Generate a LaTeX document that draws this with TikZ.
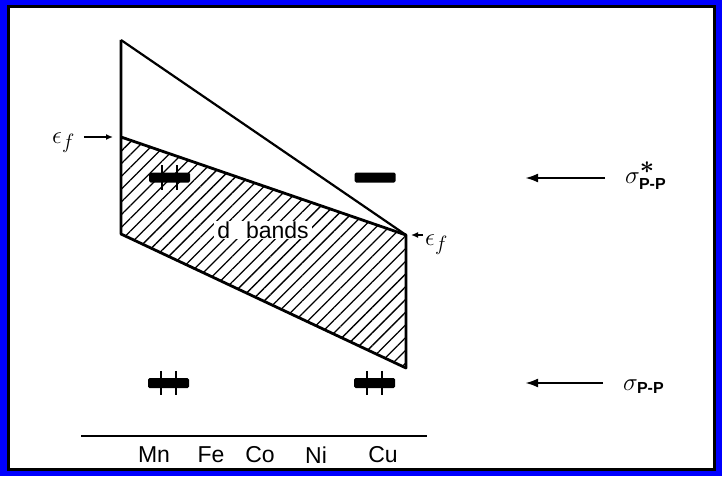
\documentclass[tikz,border=0pt]{standalone}
\usepackage{amsmath}
\usepackage{fontspec}
\setsansfont{Liberation Sans}
\usepackage{tikz}
\usetikzlibrary{arrows.meta,patterns.meta,positioning}
\definecolor{FrameBlue}{HTML}{0000FF}
\newcommand{\pp}{\text{\fontsize{16}{16}\selectfont\sffamily\bfseries P-P}}

\begin{document}
\begin{tikzpicture}[x=1pt,y=-1pt,
    band/.style={line width=2.8pt,line join=round},
    level/.style={fill=black,minimum width=41pt,minimum height=10pt,inner sep=0pt,rounded corners=1.5pt},
    spin/.style={line width=2.2pt},
    bigarrow/.style={-{Latex[length=13pt,width=9pt]},line width=2.4pt},
    smallarrow/.style={-{Latex[length=7pt,width=6pt]},line width=1.6pt},
    elem/.style={font=\sffamily\fontsize{23}{26}\selectfont,inner sep=0pt},
    lab/.style={font=\fontsize{30}{34}\selectfont,inner sep=0pt}]
    \useasboundingbox (0,0) rectangle (722,476);
    % frame
    \fill[FrameBlue] (0,0) rectangle (722,476);
    \fill[black] (7,5) rectangle (716,471);
    \fill[white] (10,8) rectangle (713,468);
    % band corners
    \coordinate (top) at (121,40);
    \coordinate (efL) at (121,137);
    \coordinate (botL) at (121,234);
    \coordinate (efR) at (406,235);
    \coordinate (botR) at (406,368);
    \fill[pattern={Lines[angle=45,distance=9pt,line width=1.3pt]}] (efL) -- (efR) -- (botR) -- (botL) -- cycle;
    \draw[band] (top) -- (botL) -- (botR) -- (efR) -- (efL);
    \draw[band,line width=2.2pt] (top) -- (efR);
    \node[fill=white,inner xsep=3pt,inner ysep=1pt,font=\sffamily\fontsize{23}{26}\selectfont] (dband) at (263,230) {d\hspace{16pt}bands};
    % levels
    \node[level] (mnS) at (169.5,177.5) {};
    \node[level] (cuS) at (375,177.5) {};
    \node[level] (mnB) at (168.5,383) {};
    \node[level] (cuB) at (374.5,383) {};
    \foreach \n in {mnS,mnB,cuB}
      \foreach \dx in {-7.5,7.5}
        \draw[spin] ([xshift=\dx pt,yshift=7pt]\n.north) -- ([xshift=\dx pt,yshift=-7pt]\n.south);
    % labels on the right
    \node[lab,font=\fontsize{34}{38}\selectfont,anchor=base west] (sigS) at (625,183) {$\sigma^{\boldsymbol{*}}_{\pp}$};
    \node[lab,font=\fontsize{34}{38}\selectfont,anchor=base west] (sigB) at (623,390) {$\sigma_{\pp}$};
    \coordinate (tipS) at (525,178);
    \coordinate (tipB) at (525,383);
    \draw[bigarrow,shorten <=20pt] (sigS.west |- tipS) -- (tipS);
    \draw[bigarrow,shorten <=20pt] (sigB.west |- tipB) -- (tipB);
    % Fermi levels
    \node[lab,anchor=base west] (efLab) at (52,143) {$\epsilon_f$};
    \node[lab,anchor=base west] (efRab) at (425,245) {$\epsilon_f$};
    \draw[smallarrow,shorten <=9pt,shorten >=8pt] (efLab.east |- efL) -- (efL);
    \draw[smallarrow,shorten <=2pt,shorten >=5pt] (efRab.west |- efR) -- (efR);
    % axis
    \coordinate (axL) at (81,436);
    \coordinate (axR) at (427,436);
    \draw[line width=2pt] (axL) -- (axR);
    \foreach \el/\x in {Mn/154,Fe/211,Co/260,Ni/316,Cu/383}
      \node[elem] (\el) at (\x,455) {\el};
\end{tikzpicture}
\end{document}
